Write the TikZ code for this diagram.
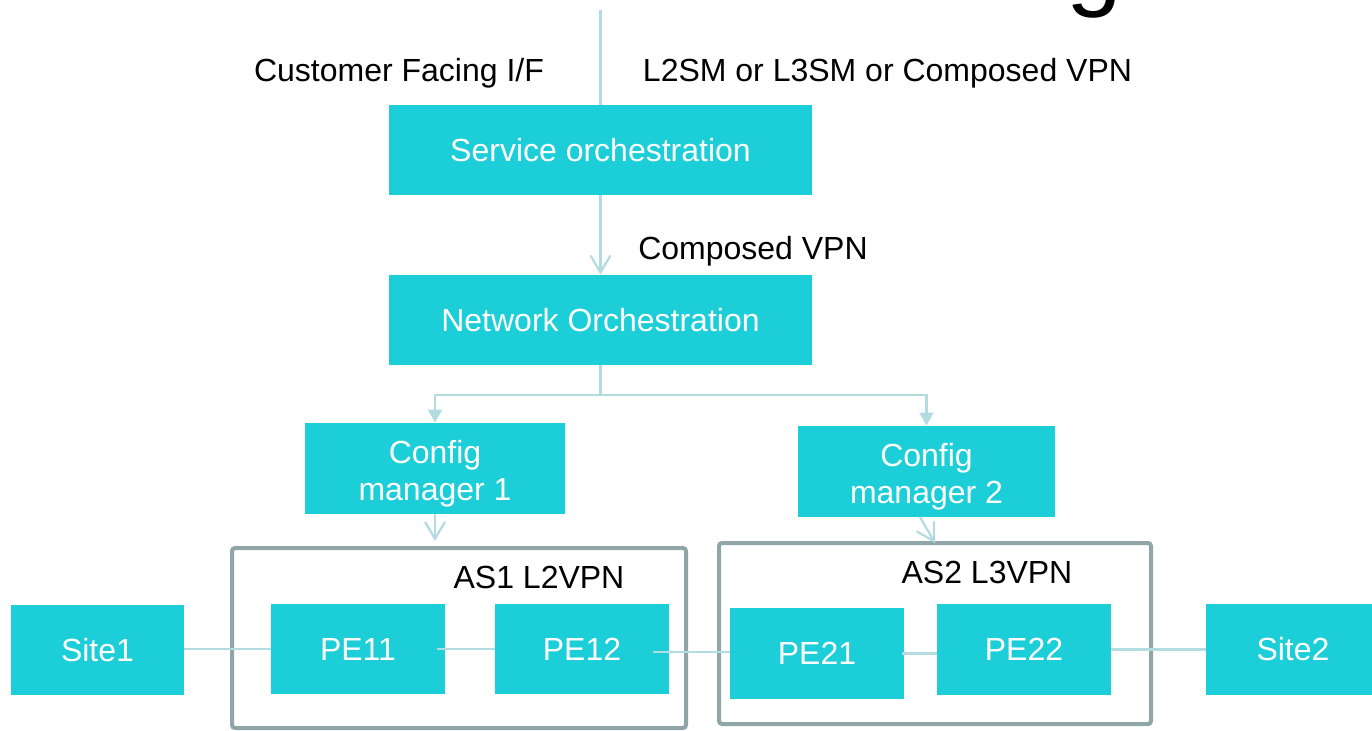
\documentclass[tikz,border=0pt]{standalone}
\usepackage{fontspec}
\setmainfont{Liberation Sans}
\usetikzlibrary{arrows.meta}
\definecolor{boxc}{RGB}{28,206,216}
\definecolor{linec}{RGB}{178,220,224}
\definecolor{asc}{RGB}{143,165,168}
\newcommand{\twolines}[2]{\raisebox{-7.25pt}[0pt][0pt]{\begin{tabular}{@{}c@{}}#1\\#2\end{tabular}}}
\begin{document}
\begin{tikzpicture}[x=0.5pt,y=-0.5pt,
  box/.style={fill=boxc,text=white,inner sep=0pt,align=center,
    font=\fontsize{16}{18.5}\selectfont},
  lbl/.style={text=black,inner sep=0pt,font=\fontsize{16}{18.5}\selectfont},
  conn/.style={draw=linec,line width=1.1pt},
  barb/.style={-{Straight Barb[length=8.5pt,width=10pt,line width=1.1pt]}},
  tri/.style={-{Triangle[length=6.5pt,width=7pt]}},
  asbox/.style={draw=asc,line width=2pt,rounded corners=1.5pt}]
\useasboundingbox (0,0) rectangle (1372,730);
\clip (0,0) rectangle (1372,730);

% partial title glyph
\node[anchor=base,inner sep=0pt,font=\fontsize{50}{60}\selectfont] (title) at (1094,-3) {g};

% AS frames
\draw[asbox] (232,548) rectangle (686,728);
\draw[asbox] (719,543) rectangle (1151,724);
\node[lbl] (as1) at (539,577) {AS1 L2VPN};
\node[lbl] (as2) at (987,572.5) {AS2 L3VPN};

% boxes
\node[box,minimum width=211.5pt,minimum height=45pt] (svc) at (600.5,150) {Service orchestration};
\node[box,minimum width=211.5pt,minimum height=45pt] (net) at (600.5,320) {Network Orchestration};
\node[box,minimum width=130pt,minimum height=45.5pt] (cm1) at (435,468.5) {\twolines{Config}{manager 1}};
\node[box,minimum width=128.5pt,minimum height=45.5pt] (cm2) at (926.5,471.5) {\twolines{Config}{manager 2}};
\node[box,minimum width=86.5pt,minimum height=45pt] (site1) at (97.5,650) {Site1};
\node[box,minimum width=87pt,minimum height=45pt] (pe11) at (358,649) {PE11};
\node[box,minimum width=87pt,minimum height=45pt] (pe12) at (582,649) {PE12};
\node[box,minimum width=87pt,minimum height=45.5pt] (pe21) at (817,653.5) {PE21};
\node[box,minimum width=87pt,minimum height=45.5pt] (pe22) at (1024,649.5) {PE22};
\node[box,minimum width=87pt,minimum height=45.5pt] (site2) at (1293,649.5) {Site2};

% labels
\node[lbl] (cfi) at (399,73) {Customer Facing I/F};
\node[lbl] (l2sm) at (887.5,73) {L2SM or L3SM or Composed VPN};
\node[lbl] (cvpn) at (753,251) {Composed VPN};

% connectors
\coordinate (top) at (600.5,10);
\coordinate (br) at (600.5,395);
\coordinate (a1) at (435,541);
\coordinate (c2) at (920,517);
\coordinate (a2) at (935,543);
\draw[conn] (top) -- (svc.north);
\draw[conn,barb] (svc.south) -- (net.north);
\draw[conn] (net.south) -- (br);
\draw[conn,tri] (br) -| (cm1.north);
\draw[conn,tri] (br) -| (cm2.north);
\draw[conn,barb] (cm1.south) -- (a1);
\draw[conn,barb] (c2) -- (a2);
\draw[conn] (site1.east |- pe11) -- (pe11);
\draw[conn] ([xshift=-4pt]pe11.east) -- (pe12.west);
\draw[conn] ([xshift=-8pt,yshift=-1.5pt]pe12.east) -- ([yshift=0.75pt]pe21.west);
\draw[conn] ([xshift=-1pt]pe21.east) -- (pe22.west |- pe21.east);
\draw[conn] (pe22) -- (site2);
\end{tikzpicture}
\end{document}
